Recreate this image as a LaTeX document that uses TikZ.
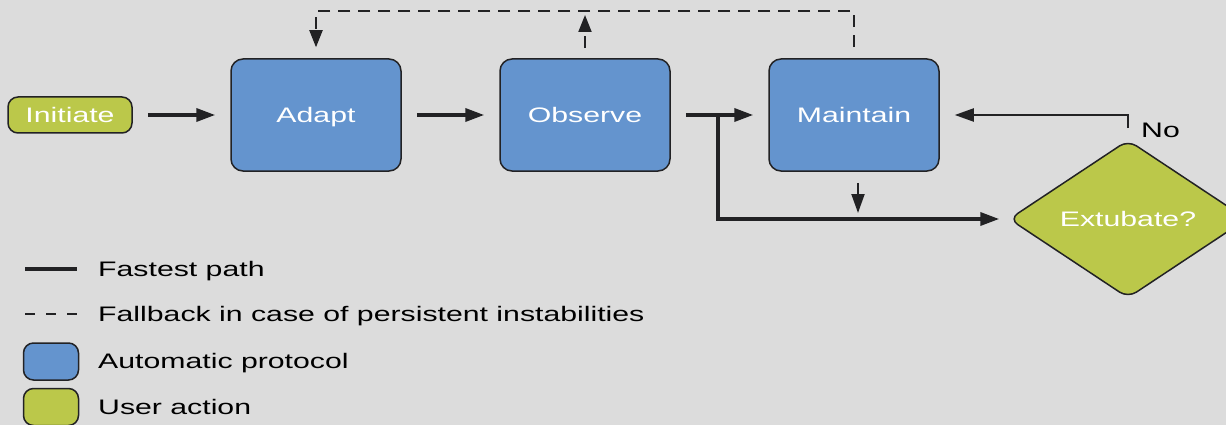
\documentclass[tikz,border=0pt]{standalone}
\usepackage{fontspec}
\setmainfont{Liberation Sans}[FakeStretch=1.44]
\usepackage{tikz}
\usetikzlibrary{arrows.meta}
\usetikzlibrary{shapes.geometric}
\definecolor{bggray}{RGB}{220,220,220}
\definecolor{autoblue}{RGB}{100,148,206}
\definecolor{usergreen}{RGB}{187,200,74}
\definecolor{edgedark}{RGB}{34,34,36}
\tikzset{
  protocol/.style={draw=edgedark, line width=1.5pt, fill=autoblue, rounded corners=12pt, minimum width=170pt, minimum height=112pt, text=white, text depth=0pt},
  useract/.style={draw=edgedark, line width=1.5pt, fill=usergreen, rounded corners=10pt, text=white, text depth=0pt},
  fastpath/.style={line width=3.5pt, draw=edgedark, -{Triangle[length=19pt,width=13pt]}},
  thinpath/.style={line width=2pt, draw=edgedark, -{Triangle[length=19pt,width=13pt]}},
  fallback/.style={line width=2pt, draw=edgedark, dash pattern=on 12pt off 8pt, -{Triangle[length=17pt,width=13pt]}},
  keytext/.style={anchor=base west, inner sep=0pt, text=black}
}
\newcommand{\keyentry}[3]{\node[keytext] (#1) at (98, #2 + 7.5) {#3};}

\begin{document}
\begin{tikzpicture}[x=1pt, y=-1pt, font=\fontsize{21}{25}\selectfont]
    \useasboundingbox (0,0) rectangle (1226,425);
    \clip (0,0) rectangle (1226,425);
    \fill[bggray] (0,0) rectangle (1226,425);
    % flow
    \node[useract, minimum width=124pt, minimum height=36pt] (initiate) at (70,115) {Initiate};
    \node[protocol] (adapt) at (316,115) {Adapt};
    \node[protocol] (observe) at (585,115) {Observe};
    \node[protocol] (maintain) at (854,115) {Maintain};
    \node[useract, diamond, minimum width=238pt, minimum height=158pt, inner sep=0pt] (extubate) at (1128,219) {Extubate?};
    \node[keytext] (nolabel) at (1141,138) {No};
    \coordinate (split) at (718,115);
    \coordinate (obstip) at (585,15);
    \coordinate (mtip) at (858,213);
    % fastest path
    \draw[fastpath, shorten <=15pt, shorten >=15pt] (initiate) -- (adapt);
    \draw[fastpath, shorten <=15pt, shorten >=15pt] (adapt) -- (observe);
    \draw[fastpath, shorten <=15pt, shorten >=15pt] (observe) -- (maintain);
    \draw[fastpath, shorten >=9pt] (split) |- (extubate.west);
    \draw[thinpath, shorten <=11pt] (maintain.south -| mtip) -- (mtip);
    \draw[thinpath, shorten <=11pt, shorten >=15pt] (extubate.north) |- (maintain.east);
    % fallback
    \draw[fallback, shorten <=11pt, shorten >=11pt] (maintain.north) -- ++(0,-47) -| (adapt.north);
    \draw[fallback, shorten <=10pt] (observe.north) -- (obstip);
    % legend
    \draw[line width=3.5pt, edgedark] (25,269) -- (77,269);
    \draw[line width=2pt, edgedark, dash pattern=on 10pt off 11pt] (25,314) -- (77,314);
    \node[protocol, minimum width=55pt, minimum height=37pt, rounded corners=10pt] (keyauto) at (51,361.5) {};
    \node[useract, minimum width=55pt, minimum height=37pt] (keyuser) at (51,407) {};
    \keyentry{keyfast}{269}{Fastest path}
    \keyentry{keyfall}{314}{Fallback in case of persistent instabilities}
    \keyentry{keyautotext}{361}{Automatic protocol}
    \keyentry{keyusertext}{407}{User action}
\end{tikzpicture}
\end{document}
